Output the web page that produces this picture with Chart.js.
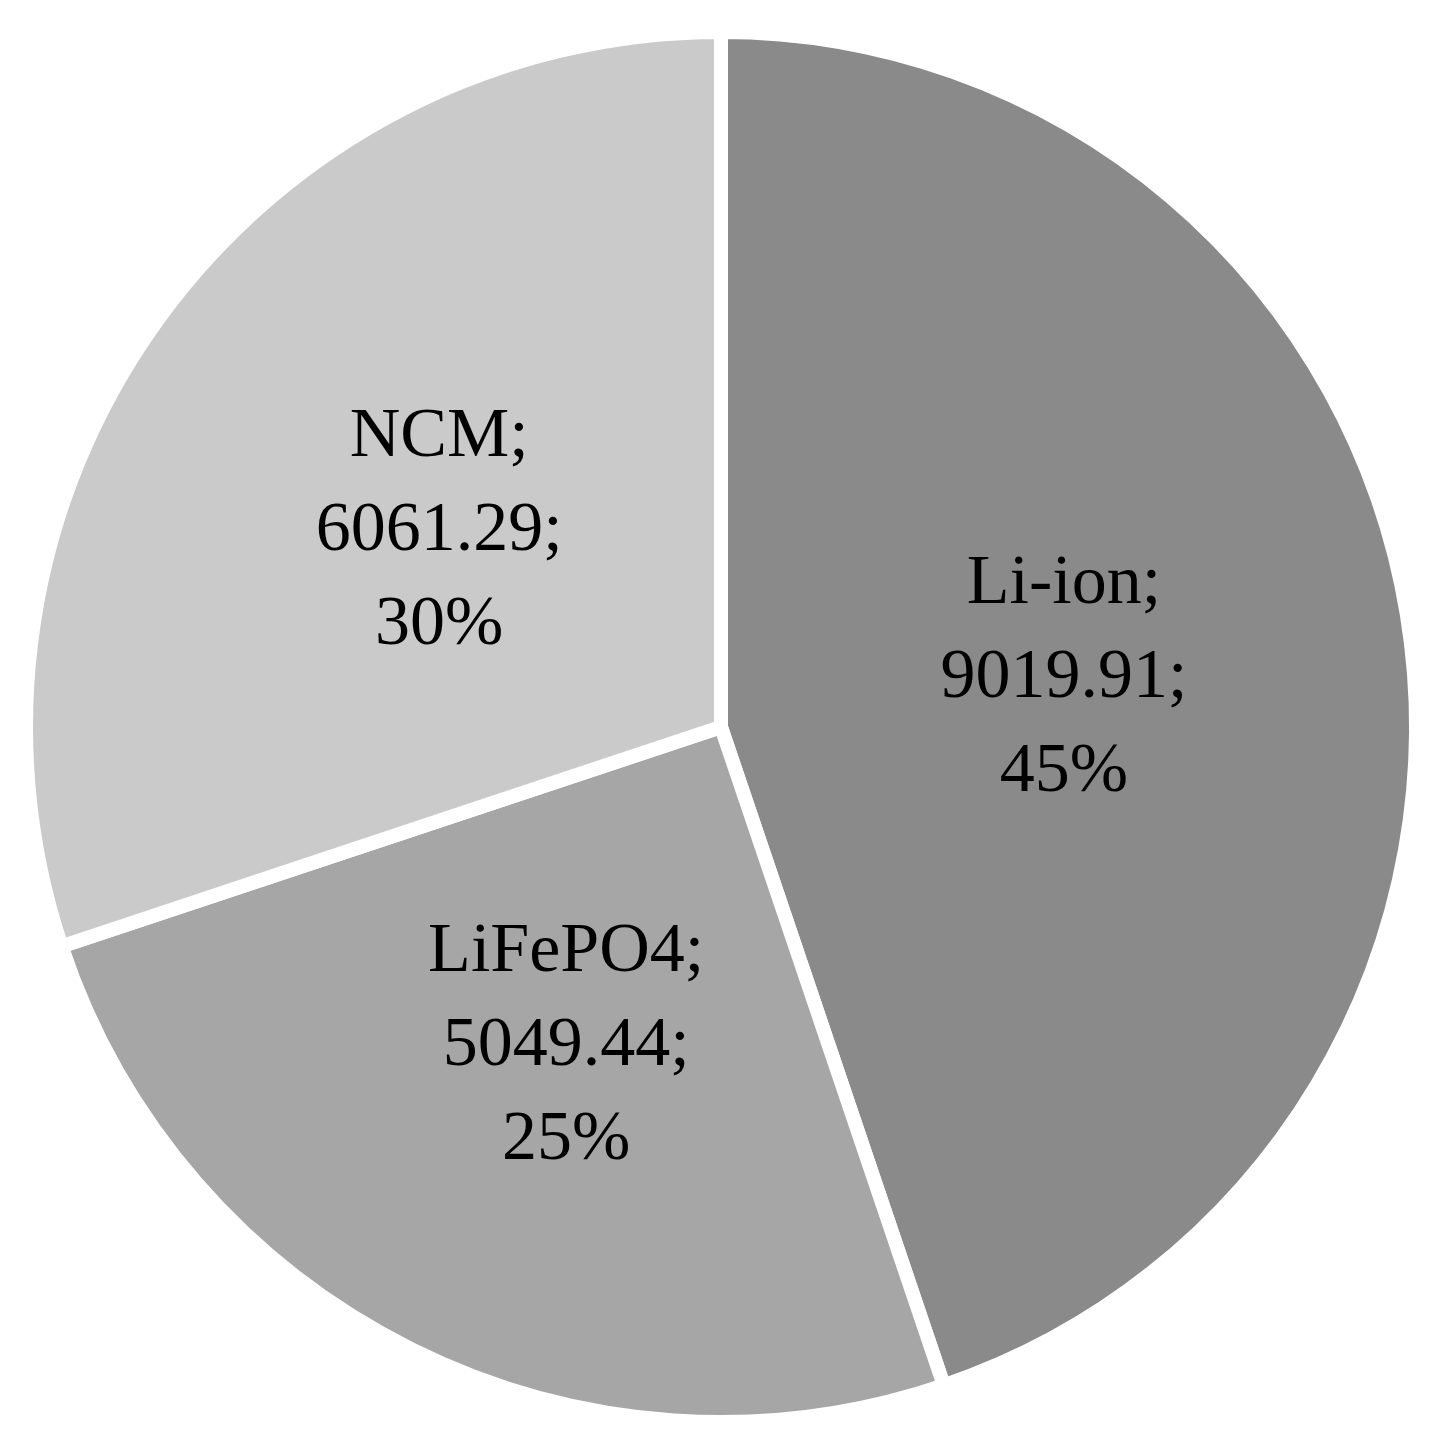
<!DOCTYPE html>
<html lang="en">
<head>
    <meta charset="UTF-8">
    <title>Battery types</title>
    <style>
        html, body {
            margin: 0;
            padding: 0;
            background: #ffffff;
        }
        .chart-wrap {
            width: 1437px;
            height: 1441px;
            position: relative;
        }
    </style>
</head>
<body>
    <div class="chart-wrap">
        <canvas id="pie-chart"></canvas>
    </div>

    <script src="https://cdn.jsdelivr.net/npm/chart.js"></script>
    <script>
        // values
        const categories = ['Li-ion', 'LiFePO4', 'NCM'];
        const amounts = [9019.91, 5049.44, 6061.29];
        const percentLabels = ['45%', '25%', '30%'];
        const sliceColors = ['#8a8a8a', '#a6a6a6', '#cacaca'];

        // draws "name; value; pct" in three lines inside each slice
        const sliceLabels = {
            id: 'sliceLabels',
            afterDatasetsDraw(chart) {
                const ctx = chart.ctx;
                const meta = chart.getDatasetMeta(0);
                const lineGap = 94;
                ctx.save();
                ctx.fillStyle = '#000000';
                ctx.font = '70px "Liberation Serif", "DejaVu Serif", serif';
                ctx.textAlign = 'center';
                ctx.textBaseline = 'middle';
                meta.data.forEach(function (arc, i) {
                    const pos = arc.tooltipPosition();
                    const lines = [
                        categories[i] + ';',
                        amounts[i].toFixed(2) + ';',
                        percentLabels[i]
                    ];
                    lines.forEach(function (txt, j) {
                        ctx.fillText(txt, pos.x, pos.y + 8 + (j - 1) * lineGap);
                    });
                });
                ctx.restore();
            }
        };

        new Chart(document.getElementById('pie-chart').getContext('2d'), {
            type: 'pie',
            data: {
                labels: categories,
                datasets: [{
                    data: amounts,
                    backgroundColor: sliceColors,
                    borderColor: '#ffffff',
                    borderWidth: 14
                }]
            },
            options: {
                responsive: true,
                maintainAspectRatio: false,
                animation: false,
                layout: {
                    padding: { left: 19, right: 14, top: 25, bottom: 12 }
                },
                plugins: {
                    legend: { display: false },
                    tooltip: { enabled: false }
                }
            },
            plugins: [sliceLabels]
        });
    </script>
</body>
</html>
